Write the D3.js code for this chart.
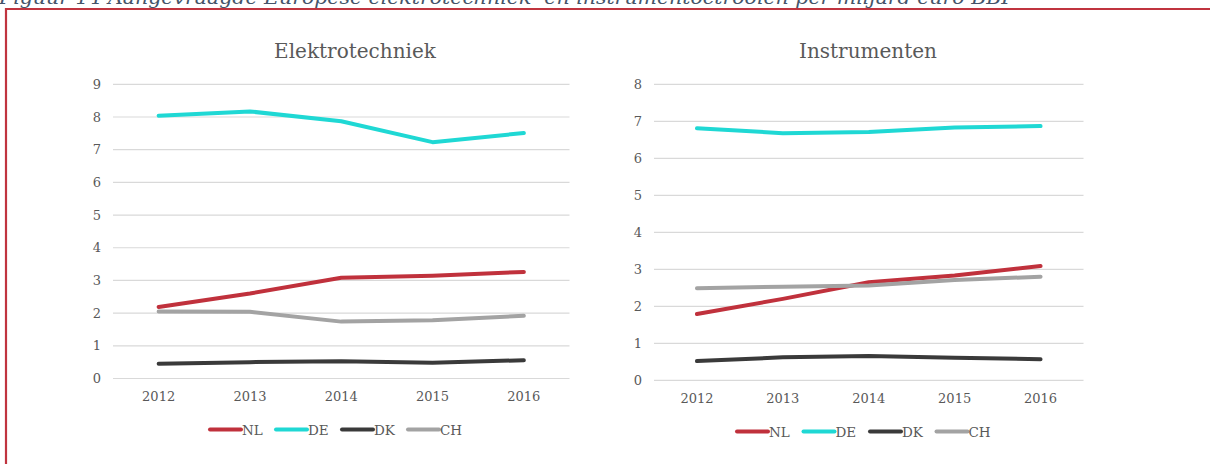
<!DOCTYPE html>
<html><head><meta charset="utf-8">
<script src="https://cdn.jsdelivr.net/npm/d3@7"></script>
<style>html,body{margin:0;padding:0;background:#fff;overflow:hidden}svg{display:block}</style>
</head><body>
<svg id="c" width="1210" height="464"></svg>
<script>
const years = ["2012","2013","2014","2015","2016"];
const seriesNames = ["NL","DE","DK","CH"];
const seriesColors = ["#c0313c","#1fd8d4","#3a3a3a","#a3a3a3"];
const elektroNL = [2.19,2.60,3.08,3.14,3.26];
const elektroDE = [8.04,8.17,7.87,7.23,7.51];
const elektroDK = [0.45,0.50,0.53,0.48,0.56];
const elektroCH = [2.05,2.04,1.74,1.78,1.92];
const instrNL = [1.79,2.20,2.65,2.83,3.09];
const instrDE = [6.81,6.68,6.71,6.83,6.87];
const instrDK = [0.52,0.62,0.66,0.61,0.57];
const instrCH = [2.49,2.53,2.56,2.71,2.80];
const elektroTicks = [0,1,2,3,4,5,6,7,8,9];
const instrTicks = [0,1,2,3,4,5,6,7,8];
const figTitle = "Figuur 14 Aangevraagde Europese elektrotechniek- en instrumentoctrooien per miljard euro BBP";

const svg = d3.select("#c");
const FONT = "DejaVu Serif, serif";
const TXT = "#595959";

// figure caption (cut off at top, as in the source)
svg.append("text").attr("x",-1).attr("y",4).attr("font-family",FONT)
  .attr("font-style","italic").attr("font-size",19).attr("fill","#44546a")
  .attr("textLength",1016).attr("lengthAdjust","spacingAndGlyphs").text(figTitle);

// red frame (left and top visible)
svg.append("path").attr("d","M6,464 V9 H1212").attr("fill","none")
  .attr("stroke","#c0343f").attr("stroke-width",2.2);

function panel(cfg){
  const g = svg.append("g");
  const x = d3.scaleBand().domain(years).range([cfg.x0,cfg.x1]);
  const y = d3.scaleLinear().domain([0,d3.max(cfg.ticks)]).range([cfg.yb,cfg.yt]);
  g.selectAll("line.grid").data(cfg.ticks).join("line")
    .attr("x1",cfg.x0).attr("x2",cfg.x1)
    .attr("y1",d=>y(d)).attr("y2",d=>y(d))
    .attr("stroke","#d9d9d9").attr("stroke-width",1.2);
  const ya = g.append("g").attr("transform",`translate(${cfg.x0-12},0)`)
    .call(d3.axisLeft(y).tickValues(cfg.ticks).tickSize(0).tickPadding(0).tickFormat(d3.format("d")));
  ya.select(".domain").remove();
  ya.selectAll("text").attr("font-family",FONT).attr("font-size",13).attr("fill",TXT);
  const xa = g.append("g").attr("transform",`translate(0,${cfg.yb})`)
    .call(d3.axisBottom(x).tickSize(0).tickPadding(13));
  xa.select(".domain").remove();
  xa.selectAll("text").attr("font-family",FONT).attr("font-size",13).attr("fill",TXT);
  g.append("text").attr("x",cfg.tx).attr("y",58).attr("text-anchor","middle")
    .attr("font-family",FONT).attr("font-size",20).attr("fill",TXT).text(cfg.title);
  const line = d3.line().x((d,i)=>x(years[i])+x.bandwidth()/2).y(d=>y(d));
  cfg.data.forEach((s,i)=>{
    g.append("path").datum(s).attr("d",line).attr("fill","none")
      .attr("stroke",seriesColors[i]).attr("stroke-width",4)
      .attr("stroke-linecap","round").attr("stroke-linejoin","round");
  });
  const lg = g.append("g");
  seriesNames.forEach((n,i)=>{
    const lx = cfg.lx + i*cfg.lstep;
    lg.append("line").attr("x1",lx).attr("x2",lx+31).attr("y1",cfg.ly).attr("y2",cfg.ly)
      .attr("stroke",seriesColors[i]).attr("stroke-width",4).attr("stroke-linecap","round");
    lg.append("text").attr("x",lx+32).attr("y",cfg.ly+5).attr("font-family",FONT)
      .attr("font-size",13.5).attr("fill",TXT).text(n);
  });
}

panel({title:"Elektrotechniek", tx:355, x0:113, x1:569.5, yt:84.3, yb:378.5, ticks:elektroTicks,
  data:[elektroNL,elektroDE,elektroDK,elektroCH], lx:210, ly:429.5, lstep:66});
panel({title:"Instrumenten", tx:868, x0:654, x1:1083.5, yt:84.3, yb:380.3, ticks:instrTicks,
  data:[instrNL,instrDE,instrDK,instrCH], lx:737, ly:431.5, lstep:66.5});
</script>
</body></html>
